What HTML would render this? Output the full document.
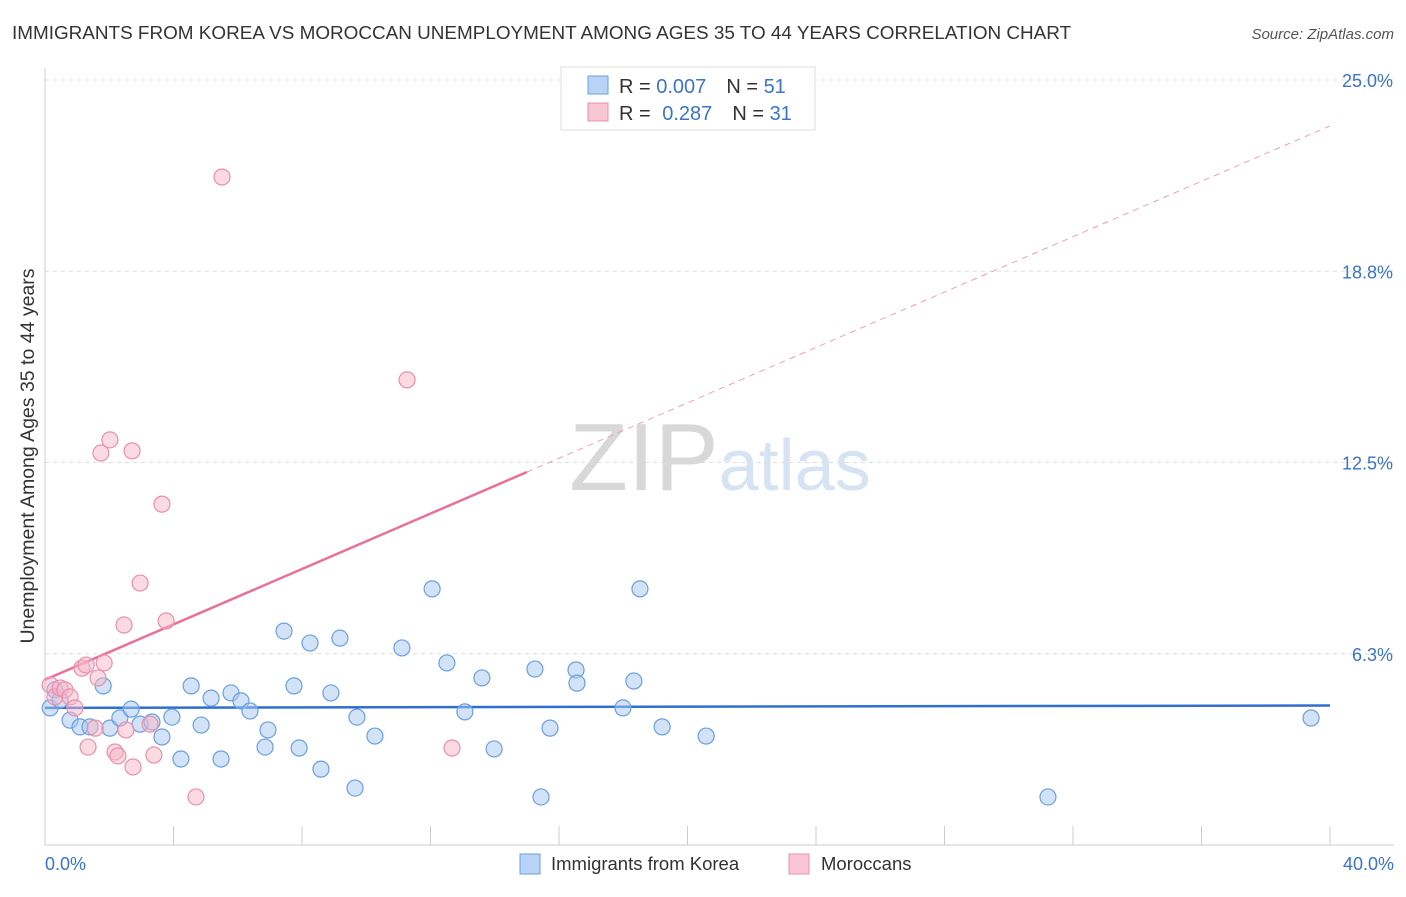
<!DOCTYPE html>
<html><head><meta charset="utf-8"><style>
body{margin:0;background:#fff;font-family:"Liberation Sans",sans-serif;}
svg text{font-family:"Liberation Sans",sans-serif;}
</style></head><body>
<svg id="chart" width="1406" height="892" xmlns="http://www.w3.org/2000/svg">
<text x="12" y="39" font-size="18.9" fill="#333">IMMIGRANTS FROM KOREA VS MOROCCAN UNEMPLOYMENT AMONG AGES 35 TO 44 YEARS CORRELATION CHART</text>
<text x="1394" y="39" font-size="15" fill="#555" text-anchor="end" font-style="italic">Source: ZipAtlas.com</text>
<text x="720" y="490" font-size="96" text-anchor="middle" fill="#ddd" font-family="Liberation Serif"><tspan fill="#d8d8d8">ZIP</tspan><tspan fill="#d6e3f3" font-family="Liberation Sans" font-size="72">atlas</tspan></text>
<g id="grid"></g>
<g id="axes"></g>
<g id="lines"></g>
<g id="points"></g>
<text transform="translate(34,456) rotate(-90)" font-size="19.5" fill="#333" text-anchor="middle">Unemployment Among Ages 35 to 44 years</text>
<text x="45" y="870" font-size="18" fill="#3a73c9">0.0%</text>
<text x="1394" y="870" font-size="18" fill="#3a73c9" text-anchor="end">40.0%</text>
<g>
<rect x="561" y="67" width="254" height="63" fill="#fff" stroke="#ddd"/>
<rect x="588" y="76" width="20" height="18" fill="#b8d3f5" stroke="#6a9fe0"/>
<rect x="588" y="103" width="20" height="18" fill="#f9c6d5" stroke="#e890aa"/>
<text x="619" y="93" font-size="20" fill="#333">R = <tspan fill="#3a73c9">0.007</tspan><tspan dx="20">N = </tspan><tspan fill="#3a73c9">51</tspan></text>
<text x="619" y="120" font-size="20" fill="#333">R = <tspan fill="#3a73c9" dx="6">0.287</tspan><tspan dx="20">N = </tspan><tspan fill="#3a73c9">31</tspan></text>
</g>
<g>
<rect x="520" y="854" width="20" height="20" fill="#b8d3f5" stroke="#6a9fe0"/>
<text x="551" y="870" font-size="18.5" fill="#333">Immigrants from Korea</text>
<rect x="789" y="854" width="20" height="20" fill="#f9c6d5" stroke="#e890aa"/>
<text x="821" y="870" font-size="18.5" fill="#333">Moroccans</text>
</g>
</svg>
<script>
const yTicks=[6.25,12.5,18.75,25];
const yTickLabels=["6.3%","12.5%","18.8%","25.0%"];
const xTicks=[0,4,8,12,16,20,24,28,32,36,40];
const koreaX=[0.16,0.31,0.47,0.78,1.09,1.40,1.81,2.02,2.33,2.68,2.96,3.33,3.64,3.95,4.23,4.55,4.86,5.17,5.48,5.79,6.10,6.38,6.85,6.94,7.44,7.75,7.91,8.25,8.59,8.90,9.18,9.65,9.71,10.27,11.11,12.05,12.51,13.07,13.60,13.98,15.25,15.44,15.72,16.53,16.56,17.99,18.33,18.52,19.21,20.58,31.22,39.41];
const koreaY=[4.48,5.07,4.74,4.08,3.86,3.86,5.20,3.82,4.15,4.44,3.95,4.02,3.53,4.18,2.81,5.20,3.92,4.80,2.81,4.97,4.71,4.38,3.20,3.76,6.99,5.20,3.17,6.60,2.48,4.97,6.76,1.86,4.18,3.56,6.44,8.37,5.95,4.35,5.46,3.14,5.75,1.57,3.82,5.72,5.29,4.48,5.36,8.37,3.86,3.56,1.57,4.15];
const morX=[0.16,0.31,0.47,0.62,0.78,0.93,1.15,1.28,1.34,1.56,1.65,1.74,1.84,2.02,2.18,2.27,2.46,2.52,2.74,2.71,2.96,3.39,3.27,3.64,3.77,4.70,5.51,11.27,12.67];
const morY=[5.23,4.84,5.13,5.07,4.84,4.48,5.78,5.88,3.20,3.82,5.46,12.81,5.95,13.24,3.04,2.91,7.19,3.76,2.55,12.88,8.56,2.94,3.95,11.14,7.32,1.57,21.83,15.20,3.17];
const koreaTrend=[4.48,4.56];
const morTrend=[5.4,23.5];
const morSolidEnd=15;
const X=v=>45+v*(1330-45)/40, Y=v=>845-v*30.6;
const NS="http://www.w3.org/2000/svg";
function mk(p,t,a){const e=document.createElementNS(NS,t);for(const k in a)e.setAttribute(k,a[k]);document.getElementById(p).appendChild(e);return e;}
yTicks.forEach((t,i)=>{
 const l=mk('grid','line',{x1:45,x2:1394,y1:Y(t),y2:Y(t),stroke:'#ddd','stroke-dasharray':'4,4'});
 
 
 const tx=mk('grid','text',{x:1393,y:Y(t)+7,'font-size':18,fill:'#3a73c9','text-anchor':'end'});
 tx.textContent=yTickLabels[i];
 
 
});
mk('axes','line',{x1:45,x2:45,y1:68,y2:845,stroke:'#ccc'});
mk('axes','line',{x1:45,x2:1394,y1:845,y2:845,stroke:'#ccc'});
xTicks.forEach(t=>{const l=mk('axes','line',{x1:X(t),x2:X(t),y1:826,y2:845,stroke:'#ccc'});
 
 });
function pts(xs,ys,fill,stroke,name){xs.forEach((x,i)=>{const c=mk('points','circle',{cx:X(x),cy:Y(ys[i]),r:8,fill:fill,'fill-opacity':0.5,stroke:stroke,'stroke-width':1.2});
 
 });}
pts(koreaX,koreaY,'#a8c8f0','#6a9fe0','korea-point');
pts(morX,morY,'#f7b6c8','#e890aa','moroccan-point');
const kl=mk('lines','line',{x1:X(0),x2:X(40),y1:Y(koreaTrend[0]),y2:Y(koreaTrend[1]),stroke:'#2f6fd0','stroke-width':2.5});


const mv=x=>morTrend[0]+(morTrend[1]-morTrend[0])*x/40;
const ml=mk('lines','line',{x1:X(0),x2:X(morSolidEnd),y1:Y(mv(0)),y2:Y(mv(morSolidEnd)),stroke:'#e8709a','stroke-width':2.5});


const md=mk('lines','line',{x1:X(morSolidEnd),x2:X(40),y1:Y(mv(morSolidEnd)),y2:Y(mv(40)),stroke:'#e8a0b8','stroke-width':1,'stroke-dasharray':'6,5'});


</script>
</body></html>
